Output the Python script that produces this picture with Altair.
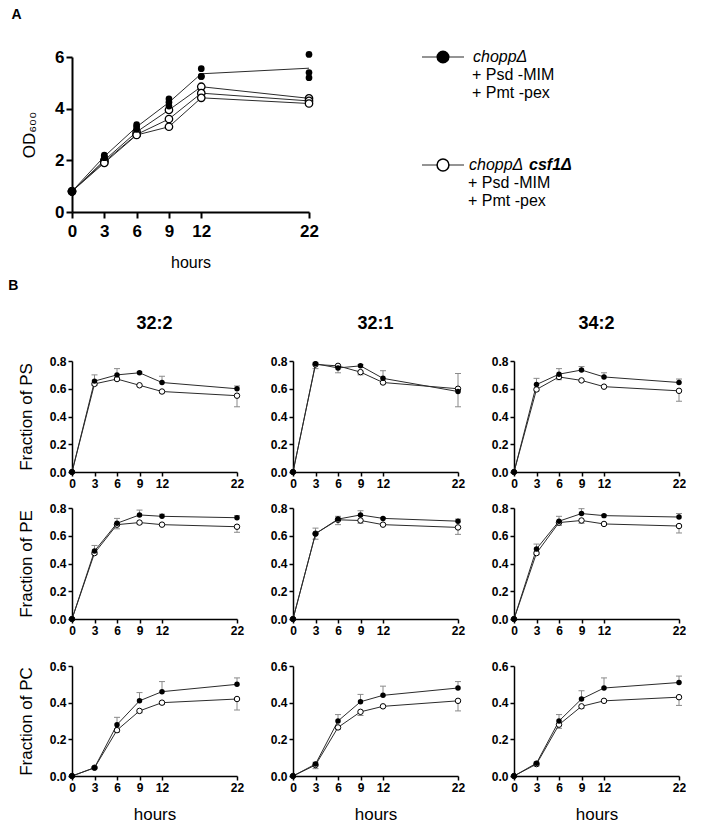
import altair as alt
import pandas as pd

FONT = "Liberation Sans"

hours = [0, 3, 6, 9, 12, 22]

# ---------------- Panel A : OD600 growth (individual replicates) ----------------
od_filled_reps = [
    [0.8, 2.20, 3.38, 4.38, 5.55, 6.10],
    [0.8, 2.15, 3.30, 4.25, 5.25, 5.40],
    [0.8, 2.10, 3.20, 4.10, 5.25, 5.20],
]
od_open_reps = [
    [0.8, 2.00, 3.10, 3.95, 4.85, 4.40],
    [0.8, 1.95, 3.00, 3.60, 4.60, 4.30],
    [0.8, 1.90, 2.98, 3.30, 4.42, 4.20],
]

# ---------------- Panel B : fractions (mean, error) ----------------
species = ["32:2", "32:1", "34:2"]
lipids = ["PS", "PE", "PC"]

filled_mean = {
    ("PS", "32:2"): [0, 0.655, 0.700, 0.715, 0.645, 0.600],
    ("PS", "32:1"): [0, 0.780, 0.750, 0.765, 0.675, 0.580],
    ("PS", "34:2"): [0, 0.630, 0.705, 0.735, 0.685, 0.645],
    ("PE", "32:2"): [0, 0.490, 0.690, 0.750, 0.740, 0.730],
    ("PE", "32:1"): [0, 0.615, 0.720, 0.750, 0.725, 0.705],
    ("PE", "34:2"): [0, 0.505, 0.705, 0.760, 0.745, 0.735],
    ("PC", "32:2"): [0, 0.045, 0.280, 0.410, 0.460, 0.500],
    ("PC", "32:1"): [0, 0.065, 0.300, 0.405, 0.440, 0.480],
    ("PC", "34:2"): [0, 0.070, 0.300, 0.420, 0.480, 0.510],
}
filled_err = {
    ("PS", "32:2"): [0, 0.045, 0.045, 0.006, 0.045, 0.020],
    ("PS", "32:1"): [0, 0.010, 0.020, 0.010, 0.055, 0.130],
    ("PS", "34:2"): [0, 0.045, 0.040, 0.025, 0.030, 0.025],
    ("PE", "32:2"): [0, 0.040, 0.035, 0.035, 0.015, 0.015],
    ("PE", "32:1"): [0, 0.040, 0.020, 0.030, 0.006, 0.015],
    ("PE", "34:2"): [0, 0.035, 0.035, 0.035, 0.006, 0.025],
    ("PC", "32:2"): [0, 0.006, 0.040, 0.045, 0.055, 0.035],
    ("PC", "32:1"): [0, 0.010, 0.035, 0.040, 0.050, 0.035],
    ("PC", "34:2"): [0, 0.006, 0.035, 0.045, 0.055, 0.035],
}
open_mean = {
    ("PS", "32:2"): [0, 0.635, 0.670, 0.625, 0.580, 0.550],
    ("PS", "32:1"): [0, 0.775, 0.765, 0.720, 0.645, 0.600],
    ("PS", "34:2"): [0, 0.595, 0.685, 0.660, 0.615, 0.585],
    ("PE", "32:2"): [0, 0.475, 0.680, 0.695, 0.680, 0.665],
    ("PE", "32:1"): [0, 0.615, 0.715, 0.710, 0.680, 0.660],
    ("PE", "34:2"): [0, 0.475, 0.695, 0.710, 0.685, 0.670],
    ("PC", "32:2"): [0, 0.045, 0.250, 0.355, 0.400, 0.420],
    ("PC", "32:1"): [0, 0.060, 0.265, 0.350, 0.380, 0.410],
    ("PC", "34:2"): [0, 0.065, 0.280, 0.380, 0.410, 0.430],
}
open_err = {
    ("PS", "32:2"): [0, 0.010, 0.010, 0.005, 0.010, 0.080],
    ("PS", "32:1"): [0, 0.030, 0.050, 0.020, 0.010, 0.130],
    ("PS", "34:2"): [0, 0.010, 0.020, 0.005, 0.005, 0.075],
    ("PE", "32:2"): [0, 0.010, 0.030, 0.010, 0.005, 0.040],
    ("PE", "32:1"): [0, 0.040, 0.035, 0.020, 0.005, 0.050],
    ("PE", "34:2"): [0, 0.010, 0.020, 0.020, 0.005, 0.050],
    ("PC", "32:2"): [0, 0.005, 0.010, 0.010, 0.010, 0.060],
    ("PC", "32:1"): [0, 0.020, 0.010, 0.020, 0.005, 0.055],
    ("PC", "34:2"): [0, 0.010, 0.020, 0.010, 0.005, 0.045],
}
y_max = {"PS": 0.8, "PE": 0.8, "PC": 0.6}

# ---------------- Legend texts ----------------
legend_rows = [0, 1, 2, 6, 7, 8]
legend_texts = ["choppΔ", "+ Psd -MIM", "+ Pmt -pex", "choppΔ", "+ Psd -MIM", "+ Pmt -pex"]
legend_styles = ["italic", "normal", "normal", "italic", "normal", "normal"]
legend_groups = ["filled", "filled", "filled", "open", "open", "open"]
legend_bold_suffix = "csf1Δ"

LINE_COLOR = "#2b2b2b"
ERR_COLOR = "#8a8a8a"

# ---------------- Panel A chart ----------------
rows = []
for i, rep in enumerate(od_filled_reps):
    for t, v in zip(hours, rep):
        rows.append({"t": t, "od": v, "grp": "filled", "rep": i})
for i, rep in enumerate(od_open_reps):
    for t, v in zip(hours, rep):
        rows.append({"t": t, "od": v, "grp": "open", "rep": i})
dfA = pd.DataFrame(rows)
dfA_mean = dfA[dfA.grp == "filled"].groupby("t", as_index=False)["od"].mean()

xA = alt.X("t:Q", scale=alt.Scale(domain=[0, 22], nice=False, padding=0),
           axis=alt.Axis(values=hours, title="hours", labelFontSize=17, labelFontWeight="bold",
                         labelFont=FONT, titleFont=FONT, titleFontSize=16, titleFontWeight="normal",
                         titlePadding=15, domainColor="black", domainWidth=2, tickColor="black",
                         tickWidth=2, tickSize=6, labelColor="black", titleColor="black", grid=False,
                         labelPadding=5, labelFlush=False))
yA = alt.Y("od:Q", scale=alt.Scale(domain=[0, 6], nice=False, padding=0),
           axis=alt.Axis(values=[0, 2, 4, 6], title="OD₆₀₀", labelFontSize=17, labelFontWeight="bold",
                         labelFont=FONT, titleFont=FONT, titleFontSize=17, titleFontWeight="normal",
                         titlePadding=16, domainColor="black", domainWidth=2, tickColor="black",
                         tickWidth=2, tickSize=6, labelColor="black", titleColor="black", grid=False,
                         labelFlush=False))

a_mean_line = alt.Chart(dfA_mean).mark_line(color=LINE_COLOR, strokeWidth=1).encode(x=xA, y=yA)
a_open_lines = alt.Chart(dfA[dfA.grp == "open"]).mark_line(color=LINE_COLOR, strokeWidth=1).encode(
    x=xA, y=yA, detail="rep:N")
a_open_pts = alt.Chart(dfA[dfA.grp == "open"]).mark_point(
    shape="circle", filled=True, fill="white", stroke="black", strokeWidth=1.3, opacity=1, size=55
).encode(x=xA, y=yA)
a_filled_pts = alt.Chart(dfA[dfA.grp == "filled"]).mark_circle(color="black", opacity=1, size=45).encode(
    x=xA, y=yA)

panelA = alt.layer(a_mean_line, a_open_lines, a_open_pts, a_filled_pts).properties(
    width=237, height=155,
    title=alt.TitleParams("A", anchor="start", frame="bounds", fontSize=14, fontWeight="bold",
                          font=FONT, dx=-9, offset=26, color="black"))

# ---------------- Legend chart ----------------
dfL = pd.DataFrame({"row": legend_rows, "text": legend_texts, "style": legend_styles,
                    "grp": legend_groups})
dfL_sym = dfL[dfL.row.isin([0, 6])].copy()
xL = alt.X("x:Q", scale=alt.Scale(domain=[0, 10], nice=False), axis=None)
yL = alt.Y("row:Q", scale=alt.Scale(domain=[0, 8.5], nice=False, reverse=True), axis=None)

dfL_line = pd.concat([dfL_sym.assign(x=0.0), dfL_sym.assign(x=2.1)])
dfL_sym = dfL_sym.assign(x=1.05)
leg_lines = alt.Chart(dfL_line).mark_line(color=LINE_COLOR, strokeWidth=1.2).encode(
    x=xL, y=yL, detail="grp:N")
leg_filled = alt.Chart(dfL_sym[dfL_sym.grp == "filled"]).mark_circle(color="black", opacity=1, size=170).encode(
    x=xL, y=yL)
leg_open = alt.Chart(dfL_sym[dfL_sym.grp == "open"]).mark_point(
    shape="circle", filled=True, fill="white", stroke="black", strokeWidth=1.5, opacity=1, size=140
).encode(x=xL, y=yL)
dfL_txt = dfL.assign(x=[2.55, 2.5, 2.5, 2.35, 2.3, 2.3])
leg_text_it = alt.Chart(dfL_txt[dfL_txt["style"] == "italic"]).mark_text(
    align="left", baseline="middle", fontSize=16, fontStyle="italic", font=FONT, color="black"
).encode(x=xL, y=yL, text="text:N")
leg_text_n = alt.Chart(dfL_txt[dfL_txt["style"] == "normal"]).mark_text(
    align="left", baseline="middle", fontSize=16, font=FONT, color="black"
).encode(x=xL, y=yL, text="text:N")
dfL_bold = pd.DataFrame({"row": [6], "x": [2.35], "text": [legend_bold_suffix]})
leg_text_b = alt.Chart(dfL_bold).mark_text(
    align="left", baseline="middle", fontSize=16, fontStyle="italic", fontWeight="bold", font=FONT,
    color="black", dx=60
).encode(x=xL, y=yL, text="text:N")

legend = alt.layer(leg_lines, leg_filled, leg_open, leg_text_it, leg_text_n, leg_text_b).properties(
    width=200, height=153)

top_row = alt.hconcat(panelA, legend, spacing=100)

# ---------------- Panel B charts ----------------
def make_panel(lipid, sp, show_ytitle, show_xtitle, show_title):
    recs = []
    for kind, means, errs in (("filled", filled_mean, filled_err), ("open", open_mean, open_err)):
        for t, m, e in zip(hours, means[(lipid, sp)], errs[(lipid, sp)]):
            lo, hi = (m, m + e) if kind == "filled" else (m - e, m)
            cap = hi if kind == "filled" else lo
            recs.append({"t": t, "y": m, "lo": lo, "hi": hi, "cap": cap, "grp": kind, "e": e})
    df = pd.DataFrame(recs)
    ym = y_max[lipid]
    yvals = [round(v * 0.2, 1) for v in range(int(round(ym / 0.2)) + 1)]
    xaxis = alt.Axis(values=hours, title="hours" if show_xtitle else None,
                     labelFontSize=12, labelFontWeight="bold", labelFont=FONT,
                     titleFont=FONT, titleFontSize=17, titleFontWeight="normal", titlePadding=13,
                     domainColor="black", domainWidth=1.5, tickColor="black", tickWidth=1.5,
                     tickSize=4, labelColor="black", titleColor="black", grid=False,
                     labelPadding=2, labelFlush=False)
    yaxis = alt.Axis(values=yvals, format=".1f",
                     title=("Fraction of " + lipid) if show_ytitle else None,
                     labelFontSize=12, labelFontWeight="bold", labelFont=FONT,
                     titleFont=FONT, titleFontSize=17, titleFontWeight="normal", titlePadding=14,
                     domainColor="black", domainWidth=1.5, tickColor="black", tickWidth=1.5,
                     tickSize=4, labelColor="black", titleColor="black", grid=False,
                     labelPadding=2, labelFlush=False)
    xs = alt.Scale(domain=[0, 22], nice=False, padding=0)
    ys = alt.Scale(domain=[0, ym], nice=False, padding=0)
    x = alt.X("t:Q", scale=xs, axis=xaxis)
    y = alt.Y("y:Q", scale=ys, axis=yaxis)
    dfe = df[df.e > 0]
    err = alt.Chart(dfe).mark_rule(color=ERR_COLOR, strokeWidth=1).encode(
        x=x, y=alt.Y("lo:Q", scale=ys, axis=yaxis), y2="hi:Q")
    caps = alt.Chart(dfe).mark_rule(color=ERR_COLOR, strokeWidth=1, xOffset=-3, x2Offset=3).encode(
        x=x, x2="t:Q", y=alt.Y("cap:Q", scale=ys, axis=yaxis))
    lines = alt.Chart(df).mark_line(color=LINE_COLOR, strokeWidth=1).encode(x=x, y=y, detail="grp:N")
    opn = alt.Chart(df[df.grp == "open"]).mark_point(
        shape="circle", filled=True, fill="white", stroke="black", strokeWidth=1, opacity=1, size=30
    ).encode(x=x, y=y)
    fil = alt.Chart(df[df.grp == "filled"]).mark_circle(color="black", opacity=1, size=30).encode(x=x, y=y)
    props = dict(width=165, height=111 if ym == 0.8 else 110)
    ch = alt.layer(err, caps, lines, opn, fil).properties(**props)
    if show_title:
        tp = alt.TitleParams(sp, fontSize=18, fontWeight="bold", font=FONT, color="black",
                             offset=22, anchor="middle", frame="group")
        ch = ch.properties(title=tp)
    return ch

grid_rows = []
for r, lip in enumerate(lipids):
    cells = []
    for c, sp in enumerate(species):
        cells.append(make_panel(lip, sp, c == 0, r == len(lipids) - 1, r == 0))
    grid_rows.append(alt.hconcat(*cells, spacing=26))

upper_grid = alt.vconcat(grid_rows[0], grid_rows[1], spacing=13)
b_block = alt.vconcat(upper_grid, grid_rows[2], spacing=24).properties(
    title=alt.TitleParams("B", anchor="start", frame="bounds", fontSize=14, fontWeight="bold",
                          font=FONT, dx=-9, offset=22, color="black"))

chart = alt.vconcat(top_row, b_block, spacing=9).properties(padding=0).configure_view(
    stroke=None)

chart.save("out.html", embed_options={"renderer": "svg", "actions": False})
